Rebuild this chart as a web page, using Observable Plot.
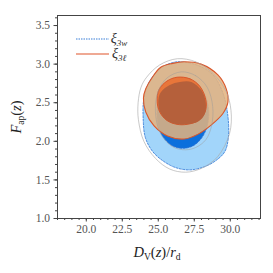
<!DOCTYPE html>
<html><head><meta charset="utf-8">
<script src="https://cdn.jsdelivr.net/npm/d3@7"></script>
<script src="https://cdn.jsdelivr.net/npm/@observablehq/plot@0.6"></script>
<style>body{margin:0;background:#fff}</style>
</head><body><div id="chart"></div>
<script>
// contour vertices: [D_V/r_d, F_ap]
const blue2sigma = [[26.6,3.03],[27.8,2.98],[28.8,2.86],[29.5,2.62],[29.85,2.3],[29.85,2.02],[29.6,1.86],[29.0,1.75],[28.2,1.67],[27.2,1.63],[26.2,1.66],[25.3,1.75],[24.6,1.87],[24.1,2.05],[23.95,2.3],[24.0,2.55],[24.4,2.78],[25.2,2.95],[26.0,3.02]];
const blue1sigma = [[26.8,2.8],[27.6,2.76],[28.2,2.62],[28.5,2.4],[28.4,2.2],[28.0,2.04],[27.4,1.94],[26.7,1.91],[26.0,1.94],[25.4,2.04],[25.0,2.2],[24.92,2.45],[25.15,2.65],[25.9,2.77]];
const orange2sigma = [[25.17,2.96],[26.0,3.01],[26.78,3.03],[27.97,3.0],[29.14,2.86],[29.72,2.68],[29.84,2.51],[29.49,2.36],[28.67,2.21],[27.74,2.09],[26.8,2.03],[25.64,2.07],[24.71,2.2],[24.13,2.38],[23.97,2.56],[24.13,2.68],[24.59,2.83]];
const orange1sigma = [[26.3,2.83],[27.2,2.81],[27.9,2.71],[28.32,2.52],[28.25,2.38],[27.8,2.27],[27.0,2.22],[26.3,2.22],[25.6,2.27],[25.1,2.38],[24.92,2.52],[25.05,2.67],[25.6,2.78]];
const overlap1sigma = [[26.5,2.77],[27.3,2.77],[28.0,2.66],[28.3,2.5],[28.22,2.35],[27.8,2.26],[27.0,2.22],[26.3,2.22],[25.6,2.27],[25.15,2.37],[25.0,2.5],[25.15,2.63],[25.8,2.73]];
const grayOuter = [[26.33,3.07],[27.6,3.03],[28.8,2.88],[29.7,2.65],[30.05,2.4],[29.95,2.1],[29.12,1.80],[28.0,1.65],[26.9,1.60],[25.8,1.64],[24.8,1.78],[24.0,2.0],[23.62,2.28],[23.6,2.5],[23.8,2.7],[24.19,2.83],[25.1,2.99]];
const grayInner = [[26.6,2.9],[27.6,2.85],[28.4,2.7],[28.78,2.45],[28.7,2.2],[28.3,2.02],[27.6,1.92],[26.9,1.89],[26.1,1.92],[25.4,2.03],[24.95,2.2],[24.8,2.45],[25.0,2.65],[25.6,2.82]];
const xMajor = [20, 22.5, 25, 27.5, 30];
const yMajor = [1.0, 1.5, 2.0, 2.5, 3.0, 3.5];
const xMinor = d3.range(18, 32.01, 0.5);
const yMinor = d3.range(1.0, 3.61, 0.1);

const shape = (data, o) => Plot.line(data, {x: d => d[0], y: d => d[1], curve: "catmull-rom-closed", ...o});

const svg = Plot.plot({
  width: 273, height: 273,
  marginLeft: 57, marginRight: 13, marginTop: 15, marginBottom: 55,
  x: {domain: [18, 32.1]},
  y: {domain: [1, 3.63]},
  style: {fontFamily: "Liberation Serif", fontSize: "11.5px", color: "#555", background: "white"},
  marks: [
    shape(blue2sigma, {fill: "#a2d5fa", stroke: "#3a7fd8", strokeWidth: 0.9, strokeDasharray: "2,1.5"}),
    shape(blue1sigma, {fill: "#0b6fdc", stroke: "#2f6fd0", strokeWidth: 0.8, strokeDasharray: "2,1.5"}),
    shape(orange2sigma, {fill: "#e4b27e", fillOpacity: 0.86, stroke: "#d9572b", strokeWidth: 1.1}),
    shape(orange1sigma, {fill: "#e8763a", stroke: "#d9572b", strokeWidth: 1}),
    shape(overlap1sigma, {fill: "#b5603b"}),
    shape(grayOuter, {stroke: "#aaa", strokeWidth: 0.8, strokeOpacity: 0.8}),
    shape(grayInner, {stroke: "#999", strokeWidth: 0.8, strokeOpacity: 0.6}),
    Plot.axisX(xMinor, {tickSize: 2, text: null, stroke: "#444"}),
    Plot.axisX(xMajor, {tickSize: 3.5, tickPadding: 3, tickFormat: d3.format(".1f"), label: null, stroke: "#444", fill: "#555"}),
    Plot.axisY(yMinor, {tickSize: 2, text: null, stroke: "#444"}),
    Plot.axisY(yMajor, {tickSize: 3.5, tickPadding: 4, tickFormat: d3.format(".1f"), label: null, stroke: "#444", fill: "#555"}),
    Plot.frame({stroke: "#444", strokeWidth: 1})
  ]
});

const s = d3.select(svg);
const font = "Liberation Serif";
// x label
const xl = s.append("text").attr("x", 157).attr("y", 257).attr("text-anchor", "middle")
  .attr("font-family", font).attr("font-size", 14.5).attr("fill", "#222");
xl.append("tspan").attr("font-style", "italic").text("D");
xl.append("tspan").attr("font-size", 9.5).attr("dy", 3).text("V");
xl.append("tspan").attr("dy", -3).text("(");
xl.append("tspan").attr("font-style", "italic").text("z");
xl.append("tspan").text(")/");
xl.append("tspan").attr("font-style", "italic").text("r");
xl.append("tspan").attr("font-size", 9.5).attr("dy", 3).text("d");
// y label
const yl = s.append("text").attr("transform", "translate(21,117) rotate(-90)").attr("text-anchor", "middle")
  .attr("font-family", font).attr("font-size", 14.5).attr("fill", "#222");
yl.append("tspan").attr("font-style", "italic").text("F");
yl.append("tspan").attr("font-size", 9.5).attr("dy", 3).text("ap");
yl.append("tspan").attr("dy", -3).text("(");
yl.append("tspan").attr("font-style", "italic").text("z");
yl.append("tspan").text(")");
// legend
const legend = [
  {label: "3w", stroke: "#3a7fd8", dash: "1.5,1", y: 39},
  {label: "3ℓ", stroke: "#e0552a", dash: null, y: 54}
];
for (const L of legend) {
  s.append("line").attr("x1", 76).attr("x2", 109).attr("y1", L.y).attr("y2", L.y)
    .attr("stroke", L.stroke).attr("stroke-width", 1.2).attr("stroke-dasharray", L.dash);
  const t = s.append("text").attr("x", 119).attr("y", L.y + 4).attr("font-family", font)
    .attr("font-size", 14).attr("fill", "#333");
  t.append("tspan").attr("font-style", "italic").text("ξ");
  t.append("tspan").attr("font-style", "italic").attr("font-size", 9).attr("dy", 3).text(L.label);
}
document.getElementById("chart").appendChild(svg);
</script></body></html>
